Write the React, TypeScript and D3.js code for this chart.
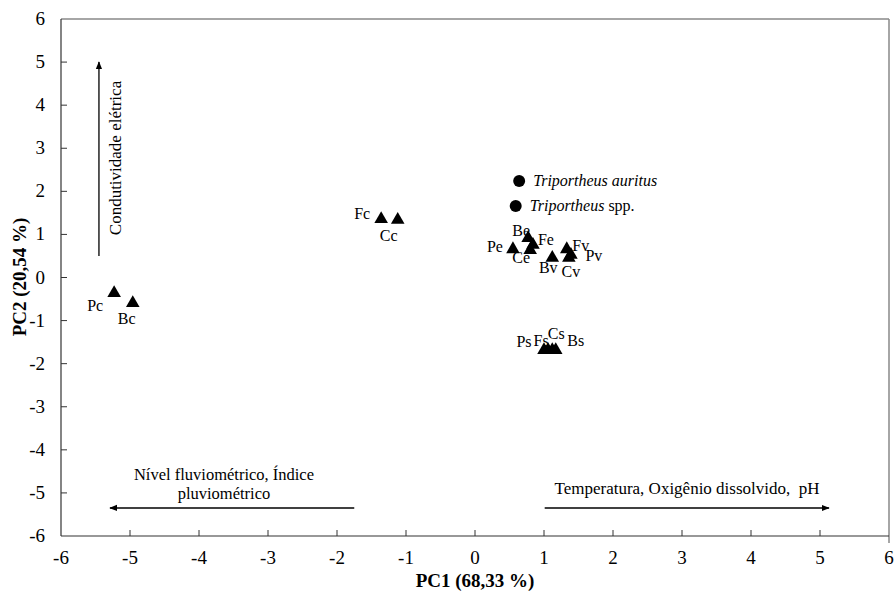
import React from "react";
import * as d3 from "d3";

const ticks = [-6, -5, -4, -3, -2, -1, 0, 1, 2, 3, 4, 5, 6];

const siteNames = ["Pc", "Bc", "Fc", "Cc", "Pe", "Be", "Fe", "Ce", "Bv", "Fv", "Cv", "Pv", "Ps", "Fs", "Cs", "Bs"];
const siteX = [-5.23, -4.96, -1.36, -1.12, 0.55, 0.77, 0.84, 0.8, 1.12, 1.33, 1.36, 1.39, 1.0, 1.06, 1.12, 1.17];
const siteY = [-0.34, -0.57, 1.38, 1.36, 0.68, 0.94, 0.78, 0.66, 0.48, 0.68, 0.48, 0.55, -1.66, -1.66, -1.66, -1.66];

const speciesItalic = ["Triportheus auritus", "Triportheus"];
const speciesPlain = ["", " spp."];
const speciesX = [0.64, 0.59];
const speciesY = [2.24, 1.66];

// label offsets (px) relative to each marker
const labelOffset: Record<string, [number, number]> = {
  Pc: [-19, 19], Bc: [-6, 22], Fc: [-19, 1], Cc: [-9, 22],
  Pe: [-18, 4], Be: [-7, -1], Fe: [13, 1], Ce: [-9, 14],
  Bv: [-4, 16], Fv: [14, 3], Cv: [2, 20], Pv: [23, 7],
  Ps: [-20, -2], Fs: [-7, -3], Cs: [4, -10], Bs: [20, -3],
};

// arrows in data coordinates: [x1, y1, x2, y2]
const arrowVert = [-5.45, 0.5, -5.45, 5.0];
const arrowLeft = [-1.75, -5.35, -5.29, -5.35];
const arrowRight = [1.01, -5.35, 5.13, -5.35];

const W = 896, H = 591;
const font = "'Liberation Serif', Tinos, 'DejaVu Serif', serif";

export default function App() {
  const x = d3.scaleLinear().domain([-6, 6]).range([61, 889]);
  const y = d3.scaleLinear().domain([-6, 6]).range([536, 19]);
  const tri = d3.symbol().type(d3.symbolTriangle).size(80)()!;

  const arrow = (a: number[], key: string) => (
    <line key={key} x1={x(a[0])} y1={y(a[1])} x2={x(a[2])} y2={y(a[3])}
      stroke="#000" strokeWidth={1.3} markerEnd="url(#ah)" />
  );

  return (
    <svg width={W} height={H} style={{ position: "fixed", left: 0, top: 0, background: "#fff", fontFamily: font }}>
      <defs>
        <marker id="ah" viewBox="0 0 10 10" refX="9" refY="5" markerWidth="8" markerHeight="8" orient="auto" markerUnits="userSpaceOnUse">
          <path d="M0,1 L10,5 L0,9 Z" fill="#000" />
        </marker>
      </defs>
      {/* top & right border */}
      <line x1={x(-6)} y1={y(6)} x2={x(6)} y2={y(6)} stroke="#888" strokeWidth={1.5} />
      <line x1={x(6)} y1={y(6)} x2={x(6)} y2={y(-6) + 7} stroke="#888" strokeWidth={1.5} />
      {/* axes */}
      <line x1={x(-6)} y1={y(6)} x2={x(-6)} y2={y(-6)} stroke="#333" strokeWidth={1.2} />
      <line x1={x(-6)} y1={y(-6)} x2={x(6)} y2={y(-6)} stroke="#333" strokeWidth={1.2} />
      {ticks.map((t) => (
        <g key={"y" + t}>
          {t > -6 && t < 6 && <line x1={x(-6)} x2={x(-6) + 6} y1={y(t)} y2={y(t)} stroke="#333" strokeWidth={1} />}
          <text x={45} y={y(t) + 6} textAnchor="end" fontSize={19}>{t}</text>
        </g>
      ))}
      {ticks.map((t) => (
        <g key={"x" + t}>
          {t > -6 && t < 6 && <line x1={x(t)} x2={x(t)} y1={y(-6)} y2={y(-6) - 6} stroke="#333" strokeWidth={1} />}
          <text x={x(t)} y={564} textAnchor="middle" fontSize={19}>{t}</text>
        </g>
      ))}
      <text x={475} y={587} textAnchor="middle" fontSize={19} fontWeight="bold">PC1 (68,33 %)</text>
      <text transform={`translate(26,${277}) rotate(-90)`} textAnchor="middle" fontSize={19} fontWeight="bold">PC2 (20,54 %)</text>

      {arrow(arrowVert, "av")}
      {arrow(arrowLeft, "al")}
      {arrow(arrowRight, "ar")}
      <text transform={`translate(121,158) rotate(-90)`} textAnchor="middle" fontSize={17}>Condutividade elétrica</text>
      <text x={224} y={480} textAnchor="middle" fontSize={16.5}>Nível fluviométrico, Índice</text>
      <text x={224} y={499} textAnchor="middle" fontSize={16.5}>pluviométrico</text>
      <text x={687} y={494} textAnchor="middle" fontSize={17} style={{ whiteSpace: "pre" }}>Temperatura, Oxigênio dissolvido,  pH</text>

      {siteNames.map((n, i) => (
        <path key={n} d={tri} transform={`translate(${x(siteX[i])},${y(siteY[i]) + 1})`} fill="#000" />
      ))}
      {siteNames.map((n, i) => (
        <text key={"l" + n} x={x(siteX[i]) + labelOffset[n][0]} y={y(siteY[i]) + labelOffset[n][1]}
          textAnchor="middle" fontSize={16}>{n}</text>
      ))}
      {speciesX.map((v, i) => (
        <g key={"s" + i}>
          <circle cx={x(v)} cy={y(speciesY[i])} r={6} fill="#000" />
          <text x={x(v) + 14} y={y(speciesY[i]) + 5} fontSize={16}>
            <tspan fontStyle="italic">{speciesItalic[i]}</tspan>{speciesPlain[i]}
          </text>
        </g>
      ))}
    </svg>
  );
}
